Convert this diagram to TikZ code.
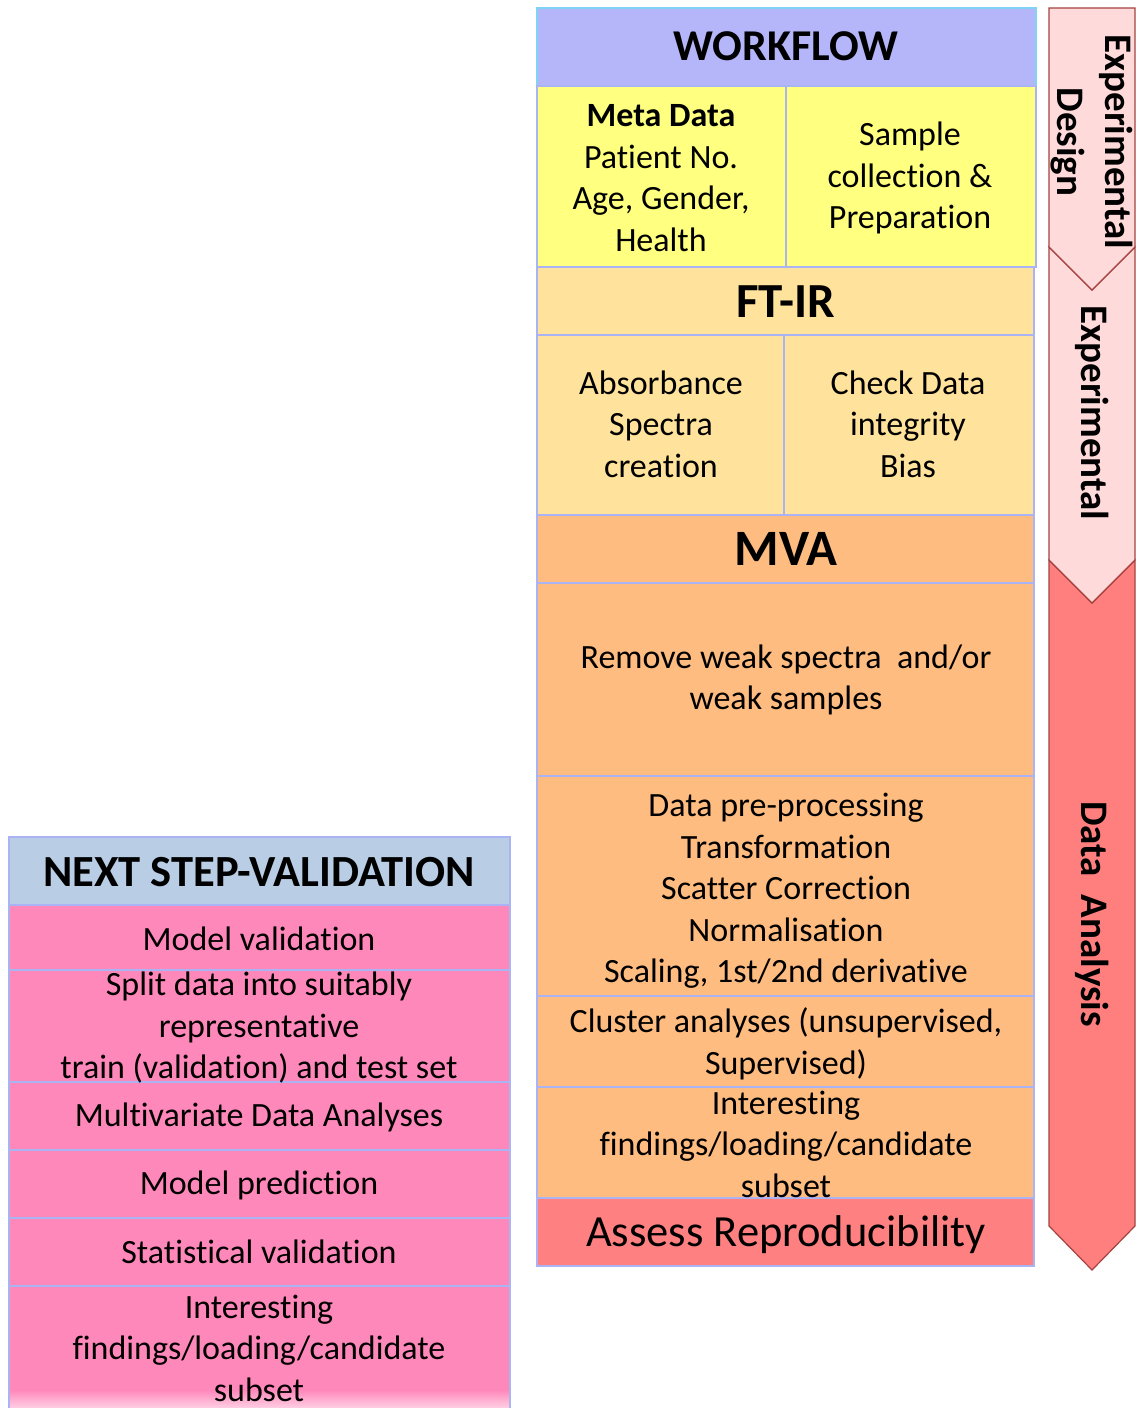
\documentclass[tikz,border=0pt]{standalone}
\usepackage{fontspec}
\setmainfont{Carlito}[Ligatures=NoCommon]
\usetikzlibrary{calc}

\definecolor{hdrblue}{HTML}{B5B5FA}
\definecolor{metayellow}{HTML}{FFFF80}
\definecolor{ftirbuff}{HTML}{FFE29B}
\definecolor{mvaorange}{HTML}{FFBC80}
\definecolor{assessred}{HTML}{FF8080}
\definecolor{nexthdr}{HTML}{B9CDE5}
\definecolor{valpink}{HTML}{FF88BB}
\definecolor{cellline}{HTML}{AAB4F5}
\definecolor{topline}{HTML}{7FD4F5}
\definecolor{palepink}{HTML}{FFDADA}
\definecolor{chevred}{HTML}{FF7F7F}
\definecolor{chevline}{HTML}{A5423F}

\tikzset{
  cellbox/.style={draw=cellline, line width=1.6pt},
  body/.style={align=center, inner sep=0pt, font=\fontsize{34}{41.5}\selectfont},
  headtext/.style={align=center, inner sep=0pt, font=\fontsize{44}{50}\selectfont\bfseries},
  sidetext/.style={align=center, inner sep=0pt, rotate=-90, font=\fontsize{39}{48}\selectfont\bfseries},
  chevron/.style={draw=chevline, line width=1.2pt, line join=miter},
}

\begin{document}
\begin{tikzpicture}[x=1pt, y=-1pt]
\useasboundingbox (0,0) rectangle (1139,1408);

% ---------- workflow column ----------
\path[cellbox, fill=hdrblue, draw=topline] (537,8) rectangle (1036,86);
\path[cellbox, fill=metayellow] (537,86) rectangle (786,267);
\path[cellbox, fill=metayellow] (786,86) rectangle (1036,267);
\path[cellbox, fill=ftirbuff] (537,267) rectangle (1034,335);
\path[cellbox, fill=ftirbuff] (537,335) rectangle (784,515);
\path[cellbox, fill=ftirbuff] (784,335) rectangle (1034,515);
\path[cellbox, fill=mvaorange] (537,515) rectangle (1034,583);
\path[cellbox, fill=mvaorange] (537,583) rectangle (1034,776);
\path[cellbox, fill=mvaorange] (537,776) rectangle (1034,996);
\path[cellbox, fill=mvaorange] (537,996) rectangle (1034,1087);
\path[cellbox, fill=mvaorange] (537,1087) rectangle (1034,1198);
\path[cellbox, fill=assessred] (537,1198) rectangle (1034,1266);

\node[headtext] (workflow) at (786,46) {WORKFLOW};
\node[body] (meta) at (661,178) {\textbf{Meta Data}\\Patient No.\\Age, Gender,\\Health};
\node[body] (sample) at (910,178) {Sample\\collection \&\\Preparation};
\node[headtext, font=\fontsize{49}{52}\selectfont\bfseries] (ftir) at (786,302) {FT-IR};
\node[body] (absorb) at (661,424) {Absorbance\\Spectra\\creation};
\node[body] (check) at (908,424) {Check Data\\integrity\\Bias};
\node[headtext, font=\fontsize{51}{54}\selectfont\bfseries] (mva) at (786,549) {MVA};
\node[body] (remove) at (786,680) {Remove weak spectra\ \ and/or\\weak samples};
\node[body] (prep) at (786,891) {Data pre-processing\\Transformation\\Scatter Correction\\Normalisation\\Scaling, 1st/2nd derivative};
\node[body] (cluster) at (786,1044) {Cluster analyses (unsupervised,\\Supervised)};
\node[body] (interest) at (786,1144) {Interesting\\findings/loading/candidate\\subset};
\node[body, font=\fontsize{44.5}{50}\selectfont] (assess) at (786,1235) {Assess Reproducibility};

% ---------- validation column ----------
\path[cellbox, fill=nexthdr] (9,837) rectangle (510,905);
\path[cellbox, fill=valpink] (9,905) rectangle (510,970);
\path[cellbox, fill=valpink] (9,970) rectangle (510,1082);
\path[cellbox, fill=valpink] (9,1082) rectangle (510,1150);
\path[cellbox, fill=valpink] (9,1150) rectangle (510,1218);
\path[cellbox, fill=valpink] (9,1218) rectangle (510,1286);
\path[cellbox, fill=valpink] (9,1286) rectangle (510,1408);
\fill[top color=valpink, bottom color=white!60!valpink] (10,1390) rectangle (509,1408);

\node[headtext, font=\fontsize{44.5}{50}\selectfont\bfseries] (nextstep) at (259,872) {NEXT STEP-VALIDATION};
\node[body] (modval) at (259,939) {Model validation};
\node[body] (split) at (259,1028) {Split data into suitably\\representative\\train (validation) and test set};
\node[body] (multi) at (259,1117) {Multivariate Data Analyses};
\node[body] (modpred) at (259,1185) {Model prediction};
\node[body] (stat) at (259,1252) {Statistical validation};
\node[body] (interest2) at (259,1348) {Interesting\\findings/loading/candidate\\subset};

% ---------- stage chevrons ----------
\path[chevron, fill=chevred] (1049,560) -- (1092,603) -- (1135,560) -- (1135,1226) -- (1092,1270) -- (1049,1226) -- cycle;
\path[chevron, fill=palepink] (1049,247) -- (1092,290) -- (1135,247) -- (1135,560) -- (1092,603) -- (1049,560) -- cycle;
\path[chevron, fill=palepink] (1049,8) -- (1135,8) -- (1135,247) -- (1092,290) -- (1049,247) -- cycle;

\node[sidetext] (design) at (1092,142) {Experimental\\Design};
\node[sidetext] (experimental) at (1092,413) {Experimental};
\node[sidetext] (analysis) at (1092,914) {Data\ \ Analysis};
\end{tikzpicture}
\end{document}
